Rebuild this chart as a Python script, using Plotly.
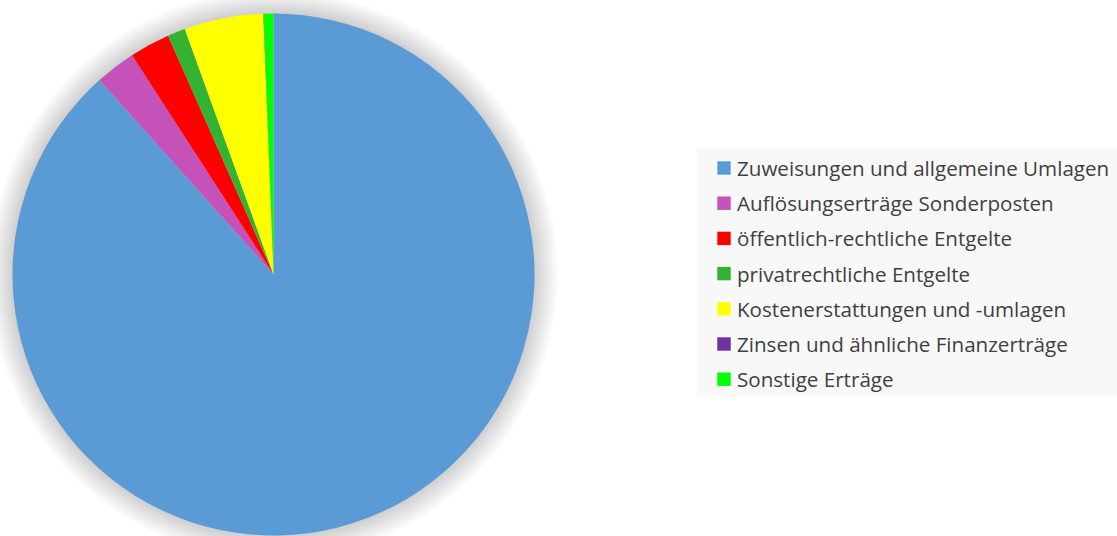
import plotly.graph_objects as go

labels = [
    "Zuweisungen und allgemeine Umlagen",
    "Auflösungserträge Sonderposten",
    "öffentlich-rechtliche Entgelte",
    "privatrechtliche Entgelte",
    "Kostenerstattungen und -umlagen",
    "Zinsen und ähnliche Finanzerträge",
    "Sonstige Erträge",
]
values = [88.4, 2.5, 2.5, 1.1, 4.9, 0.02, 0.6]
colors = ["#5B9BD5", "#C452B8", "#FF0000", "#33B233", "#FFFF00", "#7030A0", "#00FF00"]

W, H = 1117, 536
cx, cy, r = 273.5, 274.5, 261.0

fig = go.Figure()
fig.add_trace(go.Pie(
    labels=labels, values=values, sort=False, direction="clockwise", rotation=0,
    marker=dict(colors=colors, line=dict(width=0)),
    textinfo="none", hoverinfo="label+percent", showlegend=False,
    domain=dict(x=[(cx - r) / W, (cx + r) / W], y=[(H - cy - r) / H, (H - cy + r) / H]),
))

shapes = []
# soft shadow around the pie
for k in range(24, 0, -1):
    rr = r + k
    shapes.append(dict(type="circle", xref="paper", yref="paper", layer="below",
                       x0=(cx - rr) / W, x1=(cx + rr) / W,
                       y0=(H - cy - rr) / H, y1=(H - cy + rr) / H,
                       fillcolor="rgba(0,0,0,0.0085)", line=dict(width=0)))

# legend box
lx0, ly0, ly1 = 697.0, 148.5, 396.5
shapes.append(dict(type="rect", xref="paper", yref="paper", layer="below",
                   x0=lx0 / W, x1=1.0, y0=(H - ly1) / H, y1=(H - ly0) / H,
                   fillcolor="#F8F8F8", line=dict(width=0)))
annotations = []
row0, step, sq = 168.0, 35.2, 13.4
for i, (lab, col) in enumerate(zip(labels, colors)):
    yc = row0 + i * step
    shapes.append(dict(type="rect", xref="paper", yref="paper",
                       x0=717.3 / W, x1=(717.3 + sq) / W,
                       y0=(H - yc - sq / 2) / H, y1=(H - yc + sq / 2) / H,
                       fillcolor=col, line=dict(width=0)))
    annotations.append(dict(text=lab, xref="paper", yref="paper", x=735.5 / W, y=(H - yc) / H,
                            xanchor="left", yanchor="middle", showarrow=False,
                            font=dict(family="Open Sans", size=20.6, color="#404040")))

fig.update_layout(width=W, height=H, margin=dict(l=0, r=0, t=0, b=0),
                  paper_bgcolor="white", plot_bgcolor="white",
                  shapes=shapes, annotations=annotations, showlegend=False)
fig.write_html("out.html", config={"displayModeBar": False},
               post_script="document.body.style.margin='0';document.body.style.overflow='hidden';")
